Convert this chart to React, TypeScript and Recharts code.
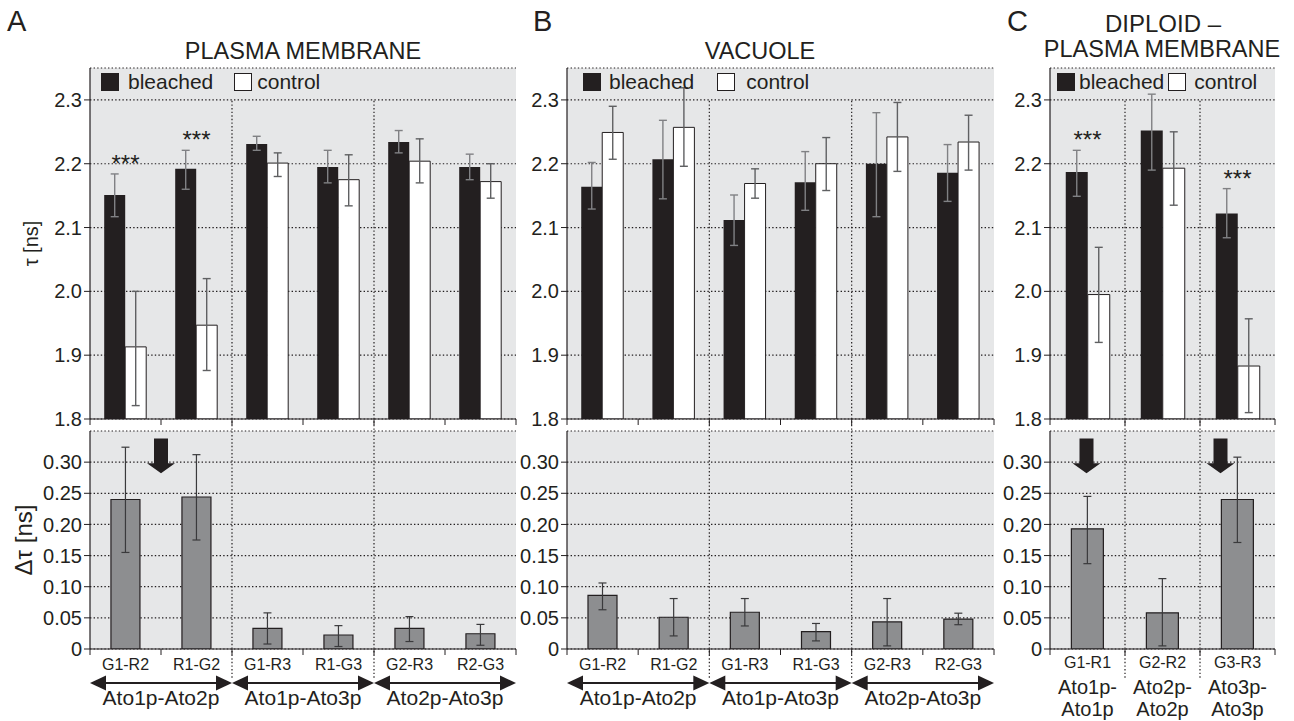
import React from 'react';
import {
  BarChart,
  Bar,
  XAxis,
  YAxis,
  CartesianGrid,
  ErrorBar,
  ReferenceLine,
  ReferenceArea,
  ReferenceDot,
  Legend,
} from 'recharts';

// ---------------- data ----------------
// Panel A – plasma membrane
const pmPairs = ['G1-R2', 'R1-G2', 'G1-R3', 'R1-G3', 'G2-R3', 'R2-G3'];
const pmGroups = ['Ato1p-Ato2p', 'Ato1p-Ato2p', 'Ato1p-Ato3p', 'Ato1p-Ato3p', 'Ato2p-Ato3p', 'Ato2p-Ato3p'];
const pmBleached = [2.151, 2.192, 2.231, 2.195, 2.234, 2.195];
const pmBleachedLo = [2.117, 2.16, 2.221, 2.17, 2.217, 2.175];
const pmBleachedHi = [2.184, 2.221, 2.243, 2.221, 2.252, 2.215];
const pmControl = [1.913, 1.947, 2.201, 2.175, 2.204, 2.172];
const pmControlLo = [1.821, 1.876, 2.18, 2.134, 2.17, 2.146];
const pmControlHi = [2.0, 2.02, 2.217, 2.214, 2.239, 2.2];
const pmStars = ['***', '***', '', '', '', ''];
const pmDelta = [0.24, 0.244, 0.033, 0.0225, 0.033, 0.0245];
const pmDeltaLo = [0.155, 0.175, 0.008, 0.004, 0.012, 0.006];
const pmDeltaHi = [0.324, 0.312, 0.058, 0.0375, 0.052, 0.0395];

// Panel B – vacuole
const vacPairs = pmPairs;
const vacGroups = pmGroups;
const vacBleached = [2.164, 2.207, 2.112, 2.171, 2.2, 2.186];
const vacBleachedLo = [2.129, 2.145, 2.072, 2.127, 2.117, 2.141];
const vacBleachedHi = [2.202, 2.268, 2.151, 2.219, 2.28, 2.23];
const vacControl = [2.249, 2.257, 2.169, 2.2, 2.242, 2.234];
const vacControlLo = [2.207, 2.196, 2.146, 2.158, 2.188, 2.19];
const vacControlHi = [2.29, 2.319, 2.192, 2.241, 2.296, 2.276];
const vacStars = ['', '', '', '', '', ''];
const vacDelta = [0.086, 0.051, 0.059, 0.028, 0.0435, 0.048];
const vacDeltaLo = [0.063, 0.021, 0.037, 0.013, 0.005, 0.039];
const vacDeltaHi = [0.106, 0.081, 0.081, 0.041, 0.081, 0.0575];

// Panel C – diploid, plasma membrane
const dipPairs = ['G1-R1', 'G2-R2', 'G3-R3'];
const dipGroups = ['Ato1p-Ato1p', 'Ato2p-Ato2p', 'Ato3p-Ato3p'];
const dipBleached = [2.187, 2.252, 2.122];
const dipBleachedLo = [2.149, 2.19, 2.084];
const dipBleachedHi = [2.221, 2.309, 2.161];
const dipControl = [1.995, 2.193, 1.883];
const dipControlLo = [1.92, 2.135, 1.81];
const dipControlHi = [2.069, 2.25, 1.957];
const dipStars = ['***', '', '***'];
const dipDelta = [0.193, 0.058, 0.24];
const dipDeltaLo = [0.137, 0.005, 0.171];
const dipDeltaHi = [0.245, 0.113, 0.308];

// axes
const tauTicks = [1.8, 1.9, 2.0, 2.1, 2.2, 2.3];
const tauDomain: [number, number] = [1.8, 2.35];
const deltaTicks = [0, 0.05, 0.1, 0.15, 0.2, 0.25, 0.3];
const deltaDomain: [number, number] = [0, 0.35];

// group boundaries (dotted vertical separators, drawn at the end of these categories)
const pmBoundaries = ['R1-G2', 'R1-G3'];
const dipBoundaries = ['G1-R1', 'G2-R2'];

// arrows marking the highlighted pairs
const pmArrows = ['G1-R2'];
const dipArrows = ['G1-R1', 'G3-R3'];
const arrowSpan: [number, number] = [0.338, 0.282];

// ---------------- styles ----------------
const FONT = '"Liberation Sans", Arial, Helvetica, sans-serif';
const INK = '#231f20';
const PANEL_BG = '#e6e7e8';
const DELTA_FILL = '#8d8e90';
const DOTS = '1.4 2.2';
const TICK_FONT = 20;

// ---------------- helpers ----------------
const makeTauRows = (
  pairs: string[], groups: string[],
  b: number[], bLo: number[], bHi: number[],
  c: number[], cLo: number[], cHi: number[],
  stars: string[],
) =>
  pairs.map((pair, i) => ({
    pair,
    group: groups[i],
    bleached: b[i],
    bleachedErr: [b[i] - bLo[i], bHi[i] - b[i]],
    control: c[i],
    controlErr: [c[i] - cLo[i], cHi[i] - c[i]],
    star: stars[i],
    starAt: Math.max(bHi[i], cHi[i]) + 0.025,
  }));

const makeDeltaRows = (pairs: string[], groups: string[], d: number[], lo: number[], hi: number[]) =>
  pairs.map((pair, i) => ({
    pair,
    group: groups[i],
    delta: d[i],
    deltaErr: [d[i] - lo[i], hi[i] - d[i]],
  }));

const pmTau = makeTauRows(pmPairs, pmGroups, pmBleached, pmBleachedLo, pmBleachedHi, pmControl, pmControlLo, pmControlHi, pmStars);
const vacTau = makeTauRows(vacPairs, vacGroups, vacBleached, vacBleachedLo, vacBleachedHi, vacControl, vacControlLo, vacControlHi, vacStars);
const dipTau = makeTauRows(dipPairs, dipGroups, dipBleached, dipBleachedLo, dipBleachedHi, dipControl, dipControlLo, dipControlHi, dipStars);
const pmDel = makeDeltaRows(pmPairs, pmGroups, pmDelta, pmDeltaLo, pmDeltaHi);
const vacDel = makeDeltaRows(vacPairs, vacGroups, vacDelta, vacDeltaLo, vacDeltaHi);
const dipDel = makeDeltaRows(dipPairs, dipGroups, dipDelta, dipDeltaLo, dipDeltaHi);

const halfBand = (p: any) =>
  typeof p?.payload?.offset === 'number' && p.payload.offset > 0
    ? p.payload.offset
    : p.width / p.visibleTicksCount / 2;

// tick marks at category boundaries only
const boundaryMarks = (p: any) => {
  const h = halfBand(p);
  return (
    <>
      <line x1={p.x - h} x2={p.x - h} y1={p.y} y2={p.y + 6} stroke={INK} strokeWidth={1} />
      {p.index === p.visibleTicksCount - 1 && (
        <line x1={p.x + h} x2={p.x + h} y1={p.y} y2={p.y + 6} stroke={INK} strokeWidth={1} />
      )}
    </>
  );
};

const BoundaryTick = (p: any) => <g>{boundaryMarks(p)}</g>;

const makePairTick = (baseline: number) => (p: any) => (
  <g>
    {boundaryMarks(p)}
    <text x={p.x} y={p.y + baseline} textAnchor="middle" fontSize={16} fill={INK}>
      {p.payload.value}
    </text>
  </g>
);

const GroupArrowTick = (p: any) => {
  const h = halfBand(p);
  const ay = p.y + 9;
  const L = p.x - h;
  const R = p.x + h;
  return (
    <g>
      <line x1={L + 10} x2={R - 10} y1={ay} y2={ay} stroke={INK} strokeWidth={2} />
      <polygon points={`${L},${ay} ${L + 16},${ay - 7.5} ${L + 16},${ay + 7.5}`} fill={INK} />
      <polygon points={`${R},${ay} ${R - 16},${ay - 7.5} ${R - 16},${ay + 7.5}`} fill={INK} />
      <text x={p.x} y={p.y + 31} textAnchor="middle" fontSize={21} fill={INK}>
        {p.payload.value}
      </text>
    </g>
  );
};

const TwoLineGroupTick = (p: any) => {
  const parts = String(p.payload.value).split('-');
  return (
    <g>
      <text x={p.x} y={p.y + 20} textAnchor="middle" fontSize={20} fill={INK}>
        {parts[0] + '-'}
      </text>
      <text x={p.x} y={p.y + 42} textAnchor="middle" fontSize={20} fill={INK}>
        {parts[1]}
      </text>
    </g>
  );
};

const makeArrowShape = (dx: number) => (p: any) => {
  const cx = p.x1 + dx;
  const top = Math.min(p.y1, p.y2);
  const tip = Math.max(p.y1, p.y2);
  const neck = tip - 10;
  return (
    <polygon
      points={`${cx - 7},${top} ${cx + 7},${top} ${cx + 7},${neck} ${cx + 14},${neck} ${cx},${tip} ${cx - 14},${neck} ${cx - 7},${neck}`}
      fill={INK}
    />
  );
};

const starShape = (text: string) => (p: any) => (
  <text x={p.cx} y={p.cy + 14} textAnchor="middle" fontSize={24} fill={INK}>
    {text}
  </text>
);

const yLabel = (text: string, dx: number, size: number) => ({
  content: (props: any) => {
    const vb = props.viewBox || {};
    const cx = (vb.x ?? 0) + dx;
    const cy = (vb.y ?? 0) + (vb.height ?? 0) / 2;
    return (
      <text
        x={cx}
        y={cy}
        transform={`rotate(-90, ${cx}, ${cy})`}
        textAnchor="middle"
        dominantBaseline="central"
        fontSize={size}
        fill={INK}
      >
        {text}
      </text>
    );
  },
});

type LegendGaps = { left: number; g1: number; g2: number; g3: number };

const makeLegend = (gaps: LegendGaps) => (props: any) => {
  const items = props.payload || [];
  return (
    <div style={{ display: 'flex', alignItems: 'center', fontSize: 21, color: INK, fontFamily: FONT, whiteSpace: 'nowrap' }}>
      {items.map((it: any, i: number) => (
        <div key={i} style={{ display: 'flex', alignItems: 'center', marginLeft: i === 0 ? 0 : gaps.g2 }}>
          <div
            style={{
              width: 16,
              height: 16,
              background: it.payload?.fill ?? it.color,
              border: `1px solid ${INK}`,
              marginRight: i === 0 ? gaps.g1 : gaps.g3,
            }}
          />
          <span>{it.value}</span>
        </div>
      ))}
    </div>
  );
};

// ---------------- panels ----------------
type TauProps = {
  rows: any[];
  left: number;
  width: number;
  yWidth: number;
  right: number;
  boundaries: string[];
  category: string;
  legend: LegendGaps;
  label?: boolean;
};

function TauChart({ rows, left, width, yWidth, right, boundaries, category, legend, label }: TauProps) {
  return (
    <div style={{ position: 'absolute', left, top: 0 }}>
      <BarChart
        width={width}
        height={435}
        data={rows}
        margin={{ top: 68, right, bottom: 4, left: 0 }}
        barGap={0}
        barCategoryGap={category}
      >
        <CartesianGrid vertical={false} fill={PANEL_BG} fillOpacity={1} stroke={INK} strokeDasharray={DOTS} strokeWidth={1.2} />
        <XAxis
          dataKey="pair"
          height={12}
          tickSize={0}
          tickMargin={0}
          tickLine={false}
          interval={0}
          tick={BoundaryTick}
          axisLine={{ stroke: INK, strokeWidth: 1.2 }}
        />
        <YAxis
          type="number"
          width={yWidth}
          domain={tauDomain}
          ticks={tauTicks}
          allowDataOverflow
          interval={0}
          tickFormatter={(v: number) => v.toFixed(1)}
          tick={{ fill: INK, fontSize: TICK_FONT }}
          tickLine={{ stroke: INK }}
          axisLine={{ stroke: INK, strokeWidth: 1.2 }}
          label={label ? yLabel('τ [ns]', 31, 20) : undefined}
        />
        <ReferenceArea fill="none" stroke={INK} strokeWidth={1.2} ifOverflow="visible" />
        {boundaries.map((b) => (
          <ReferenceLine
            key={b}
            segment={[{ x: b, y: 1.783 }, { x: b, y: 2.3 }]}
            position="end"
            ifOverflow="visible"
            stroke={INK}
            strokeWidth={1.2}
            strokeDasharray={DOTS}
          />
        ))}
        <Bar dataKey="bleached" name="bleached" fill={INK} isAnimationActive={false}>
          <ErrorBar dataKey="bleachedErr" width={4} stroke="#808184" strokeWidth={1.4} isAnimationActive={false} />
        </Bar>
        <Bar dataKey="control" name="control" fill="#ffffff" stroke={INK} strokeWidth={1} isAnimationActive={false}>
          <ErrorBar dataKey="controlErr" width={4} stroke="#5f6062" strokeWidth={1.4} isAnimationActive={false} />
        </Bar>
        {rows
          .filter((r) => r.star)
          .map((r) => (
            <ReferenceDot key={r.pair} x={r.pair} y={r.starAt} r={0} ifOverflow="visible" shape={starShape(r.star)} />
          ))}
        <Legend
          layout="horizontal"
          verticalAlign="middle"
          align="center"
          wrapperStyle={{ top: 70, left: legend.left, width: 'auto', height: 'auto' }}
          content={makeLegend(legend)}
        />
      </BarChart>
    </div>
  );
}

type DeltaProps = {
  rows: any[];
  left: number;
  width: number;
  yWidth: number;
  right: number;
  boundaries: string[];
  category: string;
  arrows: { x: string; position: 'start' | 'middle' | 'end'; dx: number }[];
  diploid?: boolean;
  label?: boolean;
};

function DeltaChart({ rows, left, width, yWidth, right, boundaries, category, arrows, diploid, label }: DeltaProps) {
  return (
    <div style={{ position: 'absolute', left, top: 420 }}>
      <BarChart
        width={width}
        height={301}
        data={rows}
        margin={{ top: 11, right, bottom: 2, left: 0 }}
        barCategoryGap={category}
      >
        <CartesianGrid vertical={false} fill={PANEL_BG} fillOpacity={1} stroke={INK} strokeDasharray={DOTS} strokeWidth={1.2} />
        <XAxis
          xAxisId={0}
          dataKey="pair"
          height={25}
          tickSize={0}
          tickMargin={0}
          tickLine={false}
          interval={0}
          tick={makePairTick(diploid ? 19 : 21)}
          axisLine={{ stroke: INK, strokeWidth: 1.2 }}
        />
        <XAxis
          xAxisId={1}
          dataKey="group"
          height={45}
          allowDuplicatedCategory={false}
          tickSize={0}
          tickMargin={0}
          tickLine={false}
          axisLine={false}
          interval={0}
          tick={diploid ? TwoLineGroupTick : GroupArrowTick}
        />
        <YAxis
          type="number"
          width={yWidth}
          domain={deltaDomain}
          ticks={deltaTicks}
          allowDataOverflow
          interval={0}
          tickFormatter={(v: number) => (v === 0 ? '0' : v.toFixed(2))}
          tick={{ fill: INK, fontSize: TICK_FONT }}
          tickLine={{ stroke: INK }}
          axisLine={{ stroke: INK, strokeWidth: 1.2 }}
          label={label ? yLabel('Δτ [ns]', 23, 24) : undefined}
        />
        <ReferenceArea xAxisId={0} fill="none" stroke={INK} strokeWidth={1.2} ifOverflow="visible" />
        {boundaries.map((b) => (
          <ReferenceLine
            key={b}
            xAxisId={0}
            segment={[{ x: b, y: -0.046 }, { x: b, y: 0.35 }]}
            position="end"
            ifOverflow="visible"
            stroke={INK}
            strokeWidth={1.2}
            strokeDasharray={DOTS}
          />
        ))}
        <Bar xAxisId={0} dataKey="delta" name="Δτ" fill={DELTA_FILL} stroke={INK} strokeWidth={1.2} isAnimationActive={false}>
          <ErrorBar dataKey="deltaErr" width={4} stroke="#3a3a3c" strokeWidth={1.2} isAnimationActive={false} />
        </Bar>
        {arrows.map((a) => (
          <ReferenceLine
            key={a.x}
            xAxisId={0}
            segment={[{ x: a.x, y: arrowSpan[0] }, { x: a.x, y: arrowSpan[1] }]}
            position={a.position}
            ifOverflow="visible"
            shape={makeArrowShape(a.dx)}
          />
        ))}
      </BarChart>
    </div>
  );
}

export default function App() {
  return (
    <div
      style={{
        position: 'absolute',
        left: 0,
        top: 0,
        width: 1294,
        height: 721,
        background: '#ffffff',
        fontFamily: FONT,
        color: INK,
        overflow: 'hidden',
      }}
    >
      <TauChart
        rows={pmTau}
        left={0}
        width={530}
        yWidth={90}
        right={14}
        boundaries={pmBoundaries}
        category="20%"
        legend={{ left: 101, g1: 9, g2: 21, g3: 5 }}
        label
      />
      <DeltaChart
        rows={pmDel}
        left={0}
        width={530}
        yWidth={90}
        right={14}
        boundaries={pmBoundaries}
        category="29.5%"
        arrows={pmArrows.map((x) => ({ x, position: 'end' as const, dx: 0 }))}
        label
      />
      <TauChart
        rows={vacTau}
        left={500}
        width={505}
        yWidth={67}
        right={11}
        boundaries={pmBoundaries}
        category="20%"
        legend={{ left: 83, g1: 8, g2: 23, g3: 11 }}
      />
      <DeltaChart
        rows={vacDel}
        left={500}
        width={505}
        yWidth={67}
        right={11}
        boundaries={pmBoundaries}
        category="29.5%"
        arrows={[]}
      />
      <TauChart
        rows={dipTau}
        left={985}
        width={309}
        yWidth={65}
        right={19}
        boundaries={dipBoundaries}
        category="21%"
        legend={{ left: 72, g1: 4, g2: 4, g3: 8 }}
      />
      <DeltaChart
        rows={dipDel}
        left={985}
        width={309}
        yWidth={65}
        right={19}
        boundaries={dipBoundaries}
        category="28.5%"
        arrows={dipArrows.map((x, i) => ({ x, position: 'middle' as const, dx: i === 0 ? -1 : -17 }))}
        diploid
      />
      <svg
        width={1294}
        height={80}
        style={{ position: 'absolute', left: 0, top: 0, pointerEvents: 'none' }}
        fontFamily={FONT}
      >
        <text x={7} y={31} fontSize={29} fill={INK}>A</text>
        <text x={303} y={59} fontSize={23.5} textAnchor="middle" fill={INK}>PLASMA MEMBRANE</text>
        <text x={533} y={31} fontSize={29} fill={INK}>B</text>
        <text x={760} y={59} fontSize={23.5} textAnchor="middle" fill={INK}>VACUOLE</text>
        <text x={1007} y={31} fontSize={29} fill={INK}>C</text>
        <text x={1163} y={32} fontSize={24} textAnchor="middle" fill={INK}>DIPLOID –</text>
        <text x={1162} y={57} fontSize={23.5} textAnchor="middle" fill={INK}>PLASMA MEMBRANE</text>
      </svg>
    </div>
  );
}
